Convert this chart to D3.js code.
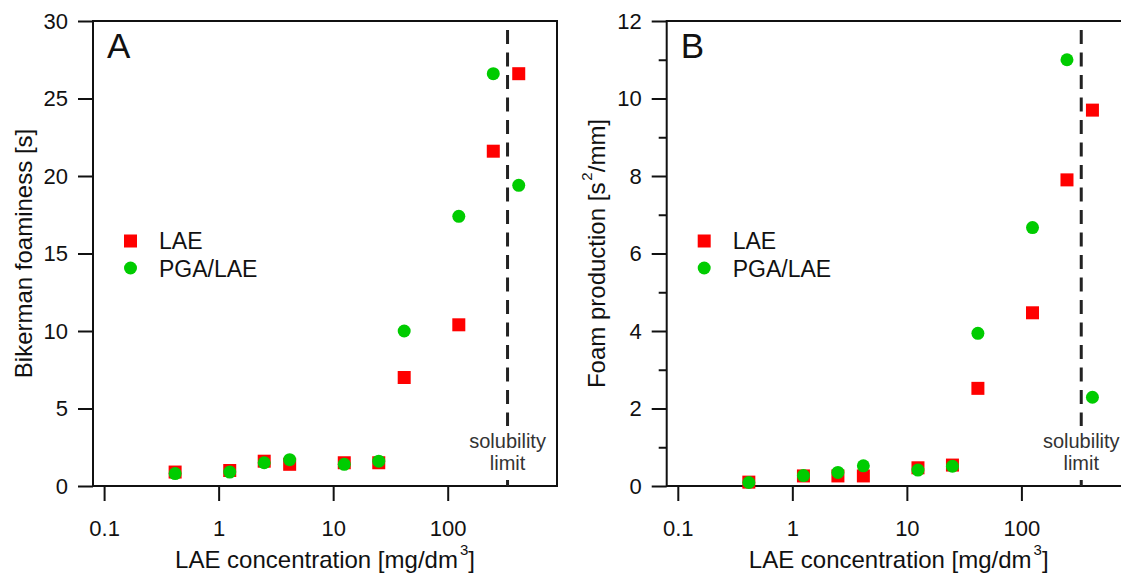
<!DOCTYPE html>
<html>
<head>
<meta charset="utf-8">
<script src="https://cdn.jsdelivr.net/npm/d3@7/dist/d3.min.js"></script>
<style>
  html, body { margin: 0; padding: 0; background: #fff; }
  svg { display: block; font-family: "Liberation Sans", Arial, sans-serif; }
</style>
</head>
<body>
<svg id="chart" width="1121" height="574"></svg>
<script>
// LAE concentrations [mg/dm3], shared by both panels
const concentrations = [0.417, 1.25, 2.5, 4.17, 12.5, 25, 41.7, 125, 250, 417];

// panel A: Bikerman foaminess [s]
const foaminessLAE = [0.9, 1.0, 1.6, 1.4, 1.5, 1.5, 7.0, 10.4, 21.6, 26.6];
const foaminessPGA = [0.8, 0.9, 1.5, 1.7, 1.4, 1.6, 10.0, 17.4, 26.6, 19.4];

// panel B: foam production [s2/mm]
const productionLAE = [0.10, 0.26, 0.26, 0.26, 0.47, 0.54, 2.52, 4.47, 7.9, 9.7];
const productionPGA = [0.09, 0.27, 0.35, 0.52, 0.41, 0.51, 3.94, 6.67, 11.0, 2.29];

const solubilityLimit = 333;

const xTicks = [0.1, 1, 10, 100];
const xTickLabels = ['0.1', '1', '10', '100'];
const yTicksA = [0, 5, 10, 15, 20, 25, 30];
const yTicksB = [0, 2, 4, 6, 8, 10, 12];
const yMinorB = [1, 3, 5, 7, 9, 11];

const seriesNames = ['LAE', 'PGA/LAE'];
const red = '#ff0000';
const green = '#00cc00';
const ink = '#111';

const svg = d3.select('#chart');

function drawPanel(opts) {
  const { left, letter, yMax, yTicks, yMinor, lae, pga, yTitle } = opts;
  const top = 21, bottom = 486, width = 464;
  const right = left + width;

  const x = d3.scaleLog().domain([0.08, 900]).range([left, right]);
  const y = d3.scaleLinear().domain([0, yMax]).range([bottom, top]);

  const g = svg.append('g');

  // y axis
  const ya = g.append('g')
    .attr('transform', `translate(${left},0)`)
    .call(d3.axisLeft(y).tickValues(yTicks).tickSize(15).tickPadding(10).tickSizeOuter(0));
  ya.select('.domain').remove();
  ya.selectAll('line').attr('stroke', ink).attr('stroke-width', 2);
  ya.selectAll('text').attr('fill', ink).style('font-size', '22px');

  if (yMinor) {
    const ym = g.append('g')
      .attr('transform', `translate(${left},0)`)
      .call(d3.axisLeft(y).tickValues(yMinor).tickSize(8).tickFormat(''));
    ym.select('.domain').remove();
    ym.selectAll('line').attr('stroke', ink).attr('stroke-width', 2);
  }

  // x axis
  const xa = g.append('g')
    .attr('transform', `translate(0,${bottom})`)
    .call(d3.axisBottom(x).tickValues(xTicks).tickSize(15).tickPadding(19)
      .tickFormat((d, i) => xTickLabels[i]));
  xa.select('.domain').remove();
  xa.selectAll('line').attr('stroke', ink).attr('stroke-width', 2);
  xa.selectAll('text').attr('fill', ink).style('font-size', '22px');

  // frame
  g.append('rect')
    .attr('x', left).attr('y', top)
    .attr('width', width).attr('height', bottom - top)
    .attr('fill', 'none').attr('stroke', ink).attr('stroke-width', 2);

  // solubility limit
  const xs = x(solubilityLimit);
  g.append('line')
    .attr('x1', xs).attr('x2', xs)
    .attr('y1', 30).attr('y2', bottom)
    .attr('stroke', '#222').attr('stroke-width', 3)
    .attr('stroke-dasharray', '14,8.5');

  g.append('rect')
    .attr('x', xs - 42).attr('y', 426)
    .attr('width', 84).attr('height', 53)
    .attr('fill', '#fff');

  const sl = g.append('text')
    .attr('text-anchor', 'middle')
    .attr('fill', '#333')
    .style('font-size', '20px');
  sl.append('tspan').attr('x', xs).attr('y', 448).text('solubility');
  sl.append('tspan').attr('x', xs).attr('y', 470).text('limit');

  // markers
  const s = 13;
  g.append('g').selectAll('rect')
    .data(lae)
    .join('rect')
      .attr('x', (d, i) => x(concentrations[i]) - s / 2)
      .attr('y', d => y(d) - s / 2)
      .attr('width', s).attr('height', s)
      .attr('fill', red);

  g.append('g').selectAll('circle')
    .data(pga)
    .join('circle')
      .attr('cx', (d, i) => x(concentrations[i]))
      .attr('cy', d => y(d))
      .attr('r', 6.5)
      .attr('fill', green);

  // panel letter
  g.append('text')
    .attr('x', left + 14).attr('y', 58)
    .attr('fill', ink)
    .style('font-size', '35px')
    .text(letter);

  // legend
  const lx = left + 37.5;
  g.append('rect')
    .attr('x', lx - s / 2).attr('y', 241 - s / 2)
    .attr('width', s).attr('height', s)
    .attr('fill', red);
  g.append('circle')
    .attr('cx', lx).attr('cy', 268).attr('r', 6.5)
    .attr('fill', green);
  g.append('text')
    .attr('x', left + 66).attr('y', 249)
    .attr('fill', ink).style('font-size', '23px')
    .text(seriesNames[0]);
  g.append('text')
    .attr('x', left + 66).attr('y', 277)
    .attr('fill', ink).style('font-size', '23px')
    .text(seriesNames[1]);

  // x title
  const xt = g.append('text')
    .attr('x', (left + right) / 2).attr('y', 568)
    .attr('text-anchor', 'middle')
    .attr('fill', ink).style('font-size', '24px');
  xt.append('tspan').text('LAE concentration [mg/dm');
  xt.append('tspan').attr('dy', -13).attr('dx', 2).style('font-size', '15px').text('3');
  xt.append('tspan').attr('dy', 13).text(']');

  // y title
  const yt = g.append('text')
    .attr('transform', `translate(${left - 61.5},${(top + bottom) / 2}) rotate(-90)`)
    .attr('text-anchor', 'middle')
    .attr('fill', ink).style('font-size', '24px');
  yTitle(yt);
}

drawPanel({
  left: 93, letter: 'A', yMax: 30, yTicks: yTicksA, yMinor: null,
  lae: foaminessLAE, pga: foaminessPGA,
  yTitle: t => t.text('Bikerman foaminess [s]')
});

drawPanel({
  left: 666.7, letter: 'B', yMax: 12, yTicks: yTicksB, yMinor: yMinorB,
  lae: productionLAE, pga: productionPGA,
  yTitle: t => {
    t.append('tspan').text('Foam production [s');
    t.append('tspan').attr('dy', -13).attr('dx', 2).style('font-size', '15px').text('2');
    t.append('tspan').attr('dy', 13).text('/mm]');
  }
});
</script>
</body>
</html>
